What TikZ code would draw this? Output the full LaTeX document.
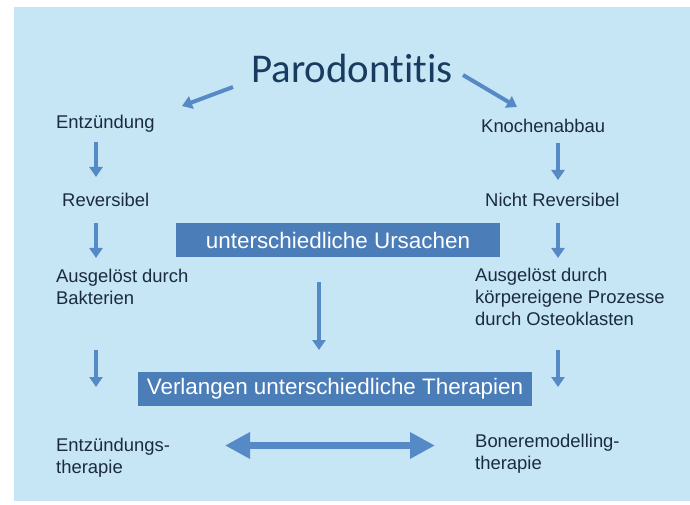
\documentclass[tikz,border=0pt]{standalone}
\usepackage{fontspec}
\setmainfont{Liberation Sans}
\newfontfamily\titlefont[Ligatures=NoCommon]{Carlito}
\usetikzlibrary{arrows.meta}
\definecolor{bgblue}{HTML}{C6E6F5}
\definecolor{boxblue}{HTML}{4B7DB9}
\definecolor{arrblue}{HTML}{568AC7}
\definecolor{txt}{HTML}{1B2B3D}
\definecolor{titlecol}{HTML}{173C5F}
\begin{document}
\begin{tikzpicture}[x=1bp,y=-1bp,
  lbl/.style={font=\fontsize{18.5}{22}\selectfont, text=txt, inner sep=0pt, align=left},
  boxlbl/.style={fill=boxblue, text=white, font=\fontsize{22.5}{27}\selectfont, minimum height=34bp, inner sep=0pt},
  arr/.style={draw=arrblue, line width=4bp, -{Triangle[length=10bp,width=13bp]}},
  bigarr/.style={draw=arrblue, line width=7bp, {Triangle[length=25bp,width=25bp]}-{Triangle[length=25bp,width=25bp]}}]
\useasboundingbox (0,0) rectangle (690,505);
\fill[bgblue] (14,7) rectangle (690,501);

\node[font=\titlefont\fontsize{41}{48}\selectfont, text=titlecol, inner sep=0pt, anchor=base] (title) at (352,83) {Parodontitis};

% left column
\node[lbl, anchor=base west] (entz) at (56,129) {Entzündung};
\node[lbl, anchor=base west] (rev) at (62,207) {Reversibel};
\node[lbl, anchor=west] (bakt) at (56,286.5) {Ausgelöst durch\\Bakterien};
\node[lbl, anchor=west] (entzth) at (56,458) {Entzündungs-\\therapie};

% right column
\node[lbl, anchor=base west] (kno) at (481,133) {Knochenabbau};
\node[lbl, anchor=base west] (nrev) at (485,207) {Nicht Reversibel};
\node[lbl, anchor=west] (osteo) at (475,297) {Ausgelöst durch\\körpereigene Prozesse\\durch Osteoklasten};
\node[lbl, anchor=west] (bone) at (475,453.5) {Boneremodelling-\\therapie};

% boxes
\node[boxlbl, minimum width=324bp] (urs) at (338,240) {unterschiedliche Ursachen};
\node[boxlbl, minimum width=394bp] (ther) at (335,389) {Verlangen unterschiedliche Therapien};

% connector end points
\coordinate (tl) at (233,87);   \coordinate (tle) at (182,106);
\coordinate (tr) at (463,75);   \coordinate (tre) at (517,107);
\coordinate (l1s) at (96,141.7); \coordinate (l1e) at (96,177);
\coordinate (l2s) at (96,222.7); \coordinate (l2e) at (96,258);
\coordinate (l3s) at (96,350);   \coordinate (l3e) at (96,387);
\coordinate (r1s) at (558,143);  \coordinate (r1e) at (558,180);
\coordinate (r2s) at (558,222.7);\coordinate (r2e) at (558,258);
\coordinate (r3s) at (558,350);  \coordinate (r3e) at (558,387);
\coordinate (ms) at (319,282);   \coordinate (me) at (319,350);
\coordinate (dl) at (225,445.5); \coordinate (dr) at (435,445.5);

\draw[arr] (tl) -- (tle);
\draw[arr] (tr) -- (tre);
\draw[arr] (l1s) -- (l1e);
\draw[arr] (l2s) -- (l2e);
\draw[arr] (l3s) -- (l3e);
\draw[arr] (r1s) -- (r1e);
\draw[arr] (r2s) -- (r2e);
\draw[arr] (r3s) -- (r3e);
\draw[arr] (ms) -- (me);
\draw[bigarr] (dl) -- (dr);
\end{tikzpicture}
\end{document}
